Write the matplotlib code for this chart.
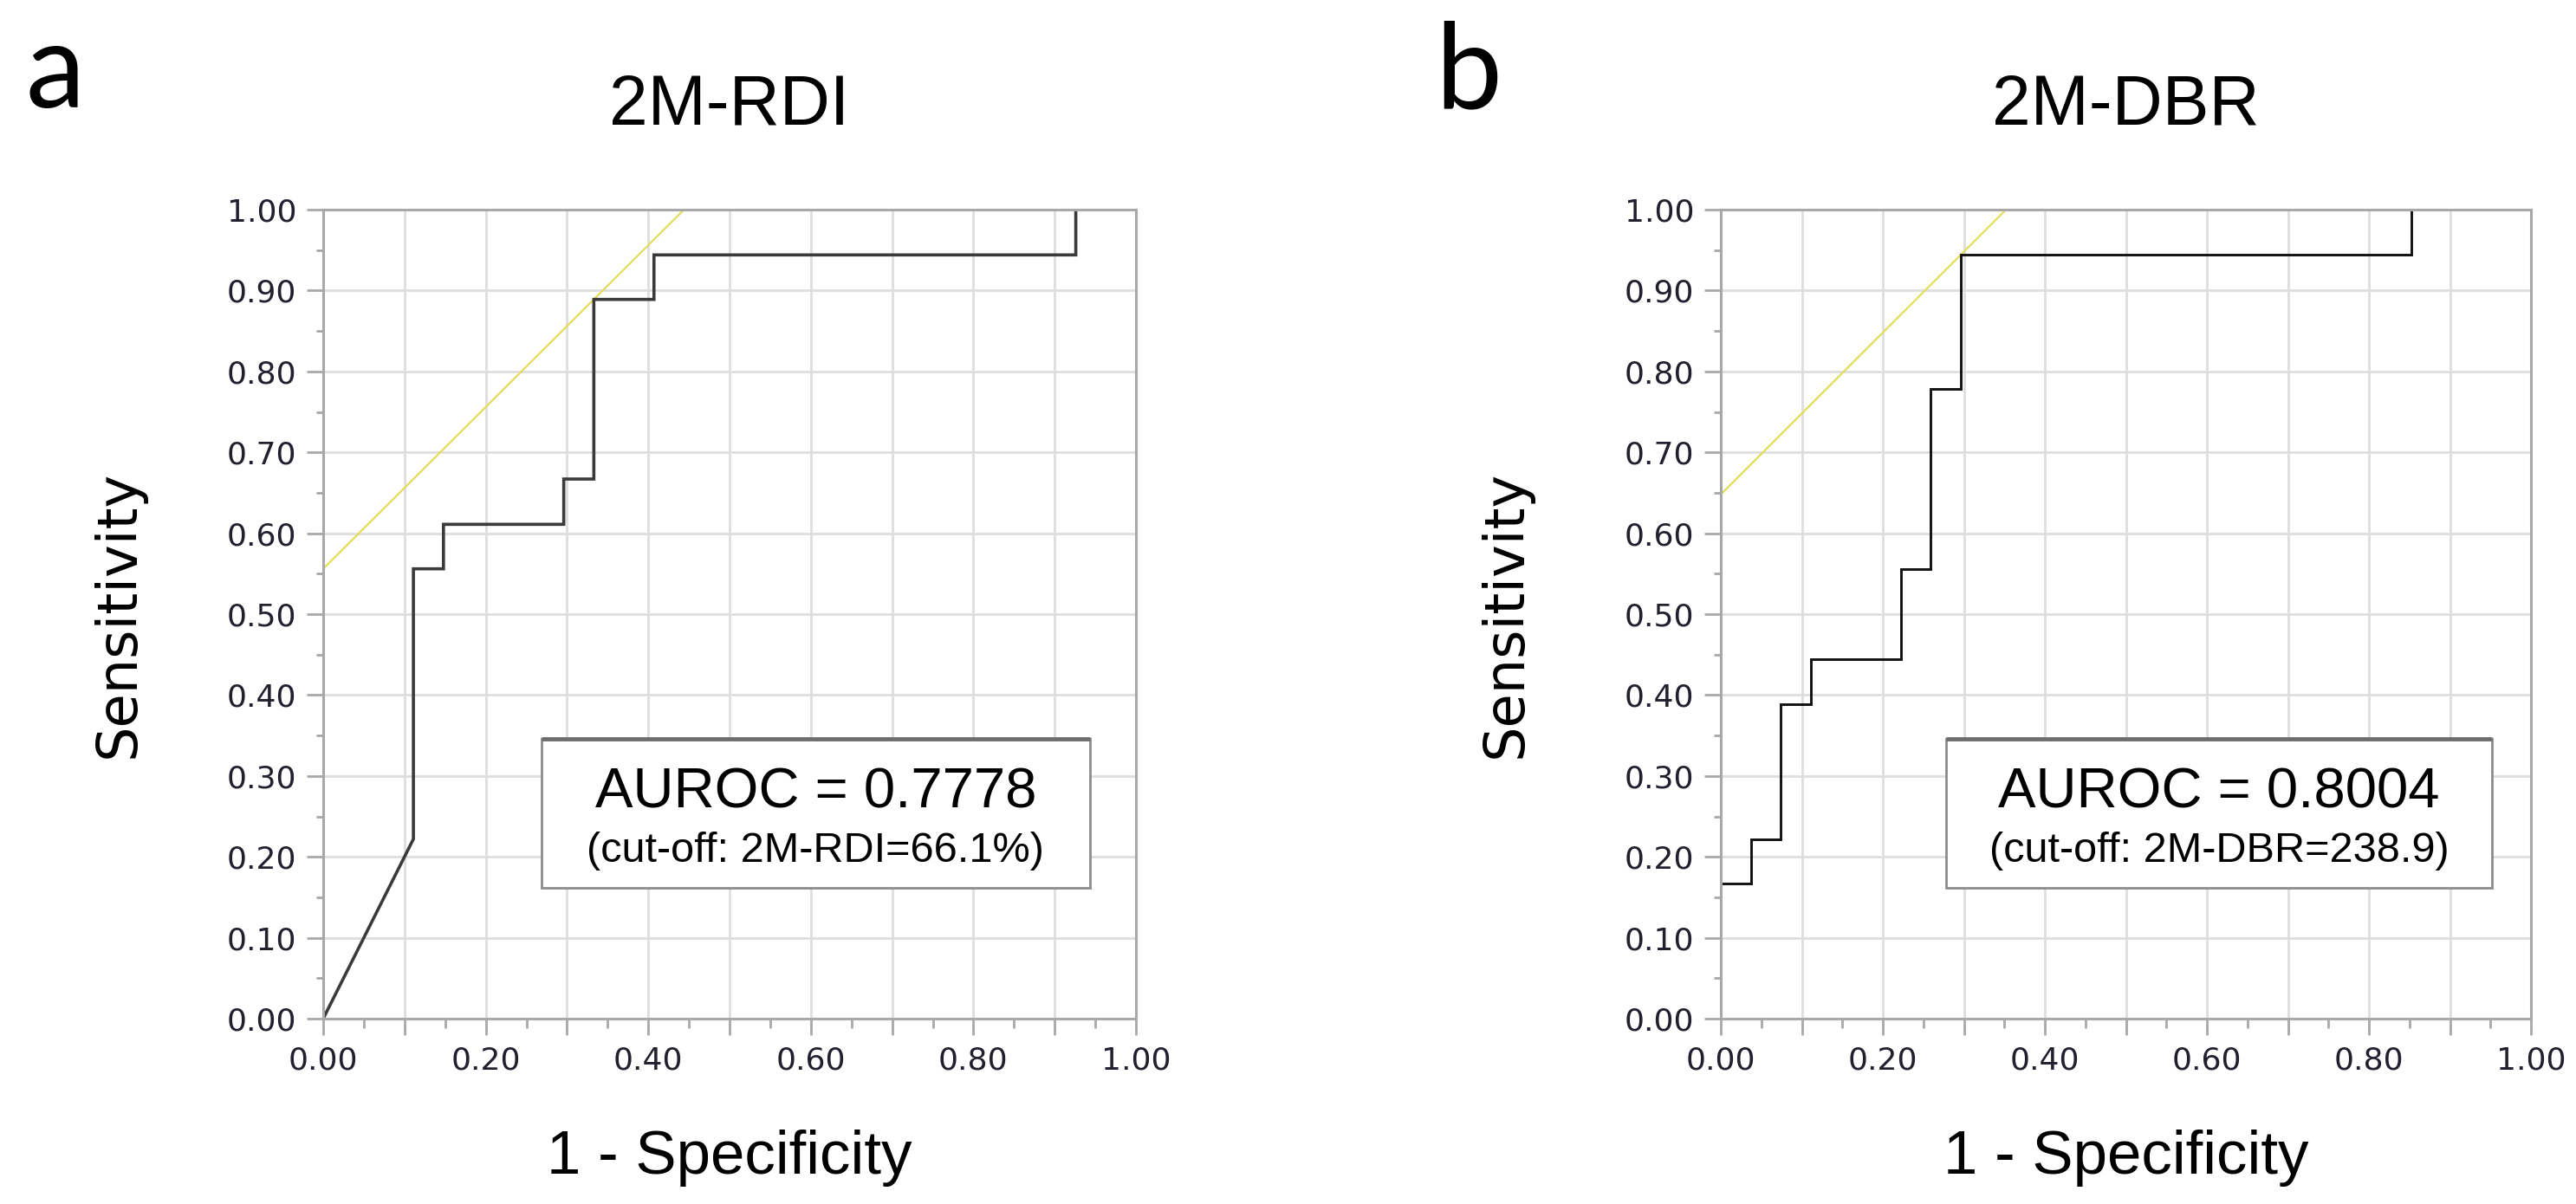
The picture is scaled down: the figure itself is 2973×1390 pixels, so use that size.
import matplotlib.pyplot as plt
from matplotlib.ticker import MultipleLocator, FuncFormatter
from matplotlib.patches import Rectangle

# ROC curve of 2M-RDI (1 - specificity, sensitivity)
fpr_rdi = [0.0, 0.111, 0.111, 0.148, 0.148, 0.296, 0.296, 0.333, 0.333, 0.407, 0.407, 0.926, 0.926]
tpr_rdi = [0.0, 0.222, 0.556, 0.556, 0.611, 0.611, 0.667, 0.667, 0.889, 0.889, 0.944, 0.944, 1.0]
tan_rdi_x = [0.0, 0.444]
tan_rdi_y = [0.556, 1.0]

# ROC curve of 2M-DBR
fpr_dbr = [0.0, 0.037, 0.037, 0.074, 0.074, 0.111, 0.111, 0.222, 0.222, 0.259, 0.259, 0.296, 0.296, 0.852, 0.852]
tpr_dbr = [0.167, 0.167, 0.222, 0.222, 0.389, 0.389, 0.444, 0.444, 0.556, 0.556, 0.778, 0.778, 0.944, 0.944, 1.0]
tan_dbr_x = [0.0, 0.352]
tan_dbr_y = [0.648, 1.0]

panels = ['a', 'b']
titles = ['2M-RDI', '2M-DBR']
auroc = ['AUROC = 0.7778', 'AUROC = 0.8004']
cutoffs = ['(cut-off: 2M-RDI=66.1%)', '(cut-off: 2M-DBR=238.9)']

W, H = 2973, 1390
fig = plt.figure(figsize=(W / 100, H / 100), dpi=100)

ax_pos = [[373 / W, 214 / H, 938 / W, 934 / H],
          [1986 / W, 214 / H, 935 / W, 934 / H]]
letter_x = [29 / W, 1656 / W]
ylab_x = [-0.2516, -0.265]
box_x = [(0.269, 0.943), (0.278, 0.952)]
curve_style = [dict(color='#3a3a3a', lw=2.6), dict(color='#111111', lw=2.1)]

curves = [(fpr_rdi, tpr_rdi, tan_rdi_x, tan_rdi_y),
          (fpr_dbr, tpr_dbr, tan_dbr_x, tan_dbr_y)]

spine_c = '#a8a8a8'
arial = 'Liberation Sans'


def tick_fmt(v, pos):
    k = int(round(v * 10))
    return f'{v:.2f}' if k % 2 == 0 else ''


for i in range(2):
    ax = fig.add_axes(ax_pos[i])
    fx, fy, tx, ty = curves[i]

    ax.plot(tx, ty, color='#e4dc5a', lw=1.6, zorder=3)
    ax.plot(fx, fy, zorder=4, solid_joinstyle='miter', **curve_style[i])

    ax.set_xlim(0, 1)
    ax.set_ylim(0, 1)

    ax.xaxis.set_major_locator(MultipleLocator(0.1))
    ax.xaxis.set_minor_locator(MultipleLocator(0.05))
    ax.yaxis.set_major_locator(MultipleLocator(0.1))
    ax.yaxis.set_minor_locator(MultipleLocator(0.05))
    ax.xaxis.set_major_formatter(FuncFormatter(tick_fmt))
    ax.yaxis.set_major_formatter(FuncFormatter(lambda v, p: f'{v:.2f}'))

    ax.grid(True, which='major', color='#dedede', lw=2.0, zorder=0)
    ax.set_axisbelow(True)
    for s in ax.spines.values():
        s.set_color(spine_c)
        s.set_linewidth(2.2)
        s.set_zorder(5)

    ax.tick_params(axis='both', which='major', direction='out', length=14,
                   width=2, color=spine_c, labelsize=26, labelcolor='#20202e')
    ax.tick_params(axis='y', which='major', pad=8)
    ax.tick_params(axis='x', which='major', pad=9)
    ax.tick_params(axis='y', which='minor', direction='out', length=6,
                   width=2, color=spine_c)
    ax.tick_params(axis='x', which='minor', direction='out', length=8,
                   width=2, color=spine_c)

    ax.set_title(titles[i], fontsize=58, family=arial, pad=71)
    ax.text(0.5, -0.1917, '1 - Specificity', transform=ax.transAxes,
            ha='center', va='baseline', fontsize=51, family=arial)
    ax.text(ylab_x[i], 0.5, 'Sensitivity', transform=ax.transAxes,
            ha='center', va='center', rotation=90, fontsize=46,
            family='DejaVu Sans')

    # AUROC box
    x0, x1 = box_x[i]
    y0, y1 = 0.162, 0.346
    ax.add_patch(Rectangle((x0, y0), x1 - x0, y1 - y0, facecolor='white',
                           edgecolor='#8c8c8c', lw=2, zorder=6))
    ax.plot([x0, x1], [y1, y1], color='#6e6e6e', lw=3.5, zorder=7,
            solid_capstyle='butt')
    xc = (x0 + x1) / 2
    ax.text(xc, 0.2612, auroc[i], ha='center', va='baseline',
            fontsize=47, family=arial, zorder=8)
    ax.text(xc, 0.1938, cutoffs[i], ha='center', va='baseline',
            fontsize=35, family=arial, zorder=8)

    fig.text(letter_x[i], 1 - 124 / H, panels[i], ha='left', va='baseline',
             fontsize=99, family='Lato')

fig.savefig('out.png', dpi=100, facecolor='white')
